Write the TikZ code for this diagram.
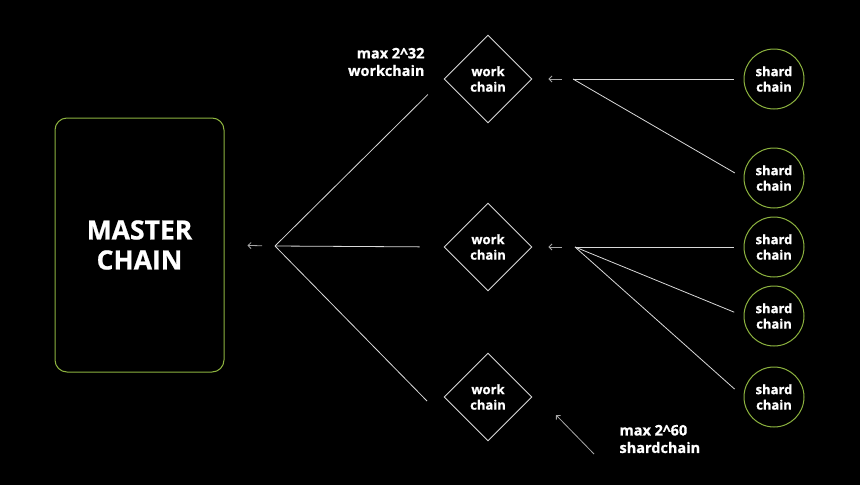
\documentclass[tikz,border=0pt]{standalone}
\usepackage{fontspec}
\setmainfont{Open Sans}[BoldFeatures={FakeBold=0.8}]
\usetikzlibrary{shapes.geometric, arrows.meta, positioning}
\definecolor{chaingreen}{HTML}{8DB33F}
\definecolor{wiregray}{HTML}{D9D9D9}
\definecolor{tipgray}{HTML}{A6A6A6}

\begin{document}
\begin{tikzpicture}[x=1pt, y=-1pt,
    master/.style={rectangle, draw=chaingreen, line width=1pt, rounded corners=12pt, minimum width=169pt, minimum height=254pt, text=white, font=\bfseries\fontsize{26.5}{30}\selectfont, align=center},
    work/.style={diamond, draw=wiregray, line width=0.9pt, minimum width=88pt, minimum height=88pt, inner sep=0pt, text=white, font=\bfseries\fontsize{13}{15.5}\selectfont, align=center},
    shard/.style={circle, draw=chaingreen, line width=1pt, minimum size=60pt, inner sep=0pt, text=white, font=\bfseries\fontsize{13}{15.5}\selectfont, align=center},
    note/.style={text=white, font=\bfseries\fontsize{14.5}{17.5}\selectfont},
    wire/.style={draw=wiregray, line width=0.8pt},
    back/.style={draw=tipgray, line width=0.8pt, -{Straight Barb[length=3pt, width=6pt]}}]

    \fill[black] (0,0) rectangle (860,485);
    \useasboundingbox (0,0) rectangle (860,485);

    \node [master] (mc) at (139.5,245) {MASTER\\CHAIN};

    \node [work] (wc1) at (488,79) {work\\chain};
    \node [work] (wc2) at (488,247) {work\\chain};
    \node [work] (wc3) at (488,397) {work\\chain};

    \node [shard] (sc1) at (774,79) {shard\\chain};
    \node [shard] (sc2) at (774,178) {shard\\chain};
    \node [shard] (sc3) at (774,247) {shard\\chain};
    \node [shard] (sc4) at (774,316) {shard\\chain};
    \node [shard] (sc5) at (774,397) {shard\\chain};

    \node [note, anchor=east, align=right] (wlimit) at (428,62) {max 2\textasciicircum32\\workchain};
    \node [note, anchor=west, align=left] (slimit) at (616,439) {max 2\textasciicircum60\\shardchain};

    \coordinate (hub) at (275,246);
    \coordinate (hub1) at (573,79);
    \coordinate (hub2) at (575,247);
    \coordinate (low) at (427,401);
    \coordinate (tail) at (594,454);
    \coordinate (head) at (556,415);

    % workchains into the masterchain
    \draw [wire, shorten >=22pt] (hub) -- (wc1.west);
    \draw [wire, shorten >=24pt] (hub) -- (wc2.west);
    \draw [wire] (hub) -- (low);
    \draw [back, shorten <=13pt, shorten >=23pt] (hub) -- (mc.east);

    % shardchains into the workchains
    \draw [wire, shorten >=10pt] (hub1) -- (sc1.west);
    \draw [wire, shorten >=10pt] (hub1) -- (sc2.west);
    \draw [back, shorten <=11pt, shorten >=16pt] (hub1) -- (wc1.east);
    \draw [wire, shorten >=10pt] (hub2) -- (sc3.west);
    \draw [wire, shorten >=10pt] (hub2) -- (sc4.west);
    \draw [wire, shorten >=12pt] (hub2) -- (sc5.west);
    \draw [back, shorten <=13pt, shorten >=16pt] (hub2) -- (wc2.east);

    \draw [back] (tail) -- (head);
\end{tikzpicture}
\end{document}
